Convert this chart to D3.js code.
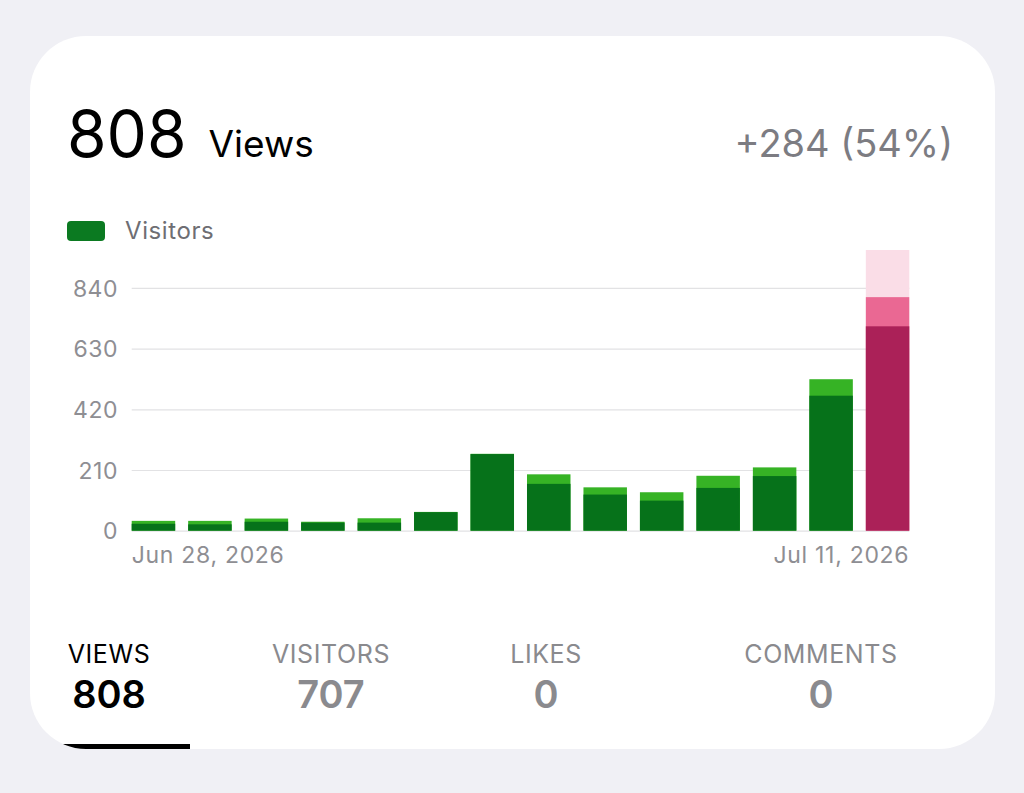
<!DOCTYPE html>
<html>
<head>
<meta charset="utf-8">
<script src="https://cdn.jsdelivr.net/npm/d3@7"></script>
<style>
  html, body { margin: 0; padding: 0; background: #f0f0f5; }
  svg { display: block; font-family: Inter, "Noto Sans", sans-serif; }
</style>
</head>
<body>
<div id="chart"></div>
<script>
// daily stats for the last two weeks
var days = ["Jun 28, 2026", "Jun 29, 2026", "Jun 30, 2026", "Jul 1, 2026", "Jul 2, 2026",
            "Jul 3, 2026", "Jul 4, 2026", "Jul 5, 2026", "Jul 6, 2026", "Jul 7, 2026",
            "Jul 8, 2026", "Jul 9, 2026", "Jul 10, 2026", "Jul 11, 2026"];
var views    = [34, 34, 42, 31, 43, 65, 266, 195, 150, 133, 190, 219, 524, 808];
var visitors = [24, 22, 31, 28, 28, 64, 265, 162, 125, 104, 148, 189, 467, 707];
var todayProjected = 971;   // pale pink cap on the current day
var yTicks = [0, 210, 420, 630, 840];
var totals = [["VIEWS", 808], ["VISITORS", 707], ["LIKES", 0], ["COMMENTS", 0]];
var change = "+284 (54%)";

var W = 1024, H = 793;

var svg = d3.select("#chart").append("svg")
    .attr("width", W)
    .attr("height", H);

// card
svg.append("clipPath").attr("id", "cardClip")
  .append("rect")
    .attr("x", 30).attr("y", 36)
    .attr("width", 965).attr("height", 713)
    .attr("rx", 56).attr("ry", 56);

svg.append("rect")
    .attr("x", 30).attr("y", 36)
    .attr("width", 965).attr("height", 713)
    .attr("rx", 56).attr("ry", 56)
    .style("fill", "#fff");

// header
var header = svg.append("text")
    .attr("x", 67).attr("y", 157);
header.append("tspan")
    .style("font-size", "64px")
    .style("fill", "#000")
    .text(totals[0][1]);
header.append("tspan")
    .attr("dx", 22)
    .style("font-size", "37px")
    .style("fill", "#000")
    .text("Views");

svg.append("text")
    .attr("x", 953).attr("y", 157)
    .attr("text-anchor", "end")
    .style("font-size", "38px")
    .style("fill", "#7c7c82")
    .text(change);

// legend
svg.append("rect")
    .attr("x", 67).attr("y", 221)
    .attr("width", 38).attr("height", 20)
    .attr("rx", 4)
    .style("fill", "#0b7a21");
svg.append("text")
    .attr("x", 125).attr("y", 239)
    .style("font-size", "24px")
    .style("letter-spacing", "0.6px")
    .style("fill", "#6e6e73")
    .text("Visitors");

// chart
var x = d3.scaleBand()
    .domain(days)
    .range([131.7, 909.3])
    .paddingInner(0.23)
    .paddingOuter(0);

var y = d3.scaleLinear()
    .domain([0, todayProjected])
    .range([530.7, 250]);

var chart = svg.append("g");

// horizontal grid
chart.append("g")
    .attr("class", "grid")
    .attr("transform", "translate(131.7,0)")
    .call(d3.axisLeft(y)
      .tickValues(yTicks)
      .tickSize(-(909.3 - 131.7))
      .tickFormat(""))
    .call(function(g){
      g.select(".domain").remove();
      g.selectAll("line").style("stroke", "#e2e2e4").style("stroke-width", 1.2);
    });

// y labels
chart.append("g")
    .attr("transform", "translate(118,0)")
    .call(d3.axisLeft(y).tickValues(yTicks).tickSize(0).tickPadding(0))
    .call(function(g){
      g.select(".domain").remove();
      g.selectAll("text")
        .attr("dy", "0.36em")
        .style("font-family", "Inter, sans-serif")
        .style("font-size", "23px")
        .style("letter-spacing", "0.5px")
        .style("fill", "#8e8e93");
    });

var last = days.length - 1;
var data = days.map(function(d, i){
    return {day: d, views: views[i], visitors: visitors[i], today: i === last};
});

// today's projected cap
chart.append("rect")
    .attr("x", x(days[last]))
    .attr("y", y(todayProjected))
    .attr("width", x.bandwidth())
    .attr("height", y(views[last]) - y(todayProjected))
    .style("fill", "#fadde7");

// views (light layer)
chart.selectAll(".bar-views")
    .data(data)
  .enter().append("rect")
    .attr("class", "bar-views")
    .attr("x", function(d){ return x(d.day); })
    .attr("y", function(d){ return y(d.views); })
    .attr("width", x.bandwidth())
    .attr("height", function(d){ return y(0) - y(d.views); })
    .style("fill", function(d){ return d.today ? "#ea6893" : "#36b325"; });

// visitors (dark layer)
chart.selectAll(".bar-visitors")
    .data(data)
  .enter().append("rect")
    .attr("class", "bar-visitors")
    .attr("x", function(d){ return x(d.day); })
    .attr("y", function(d){ return y(d.visitors); })
    .attr("width", x.bandwidth())
    .attr("height", function(d){ return y(0) - y(d.visitors); })
    .style("fill", function(d){ return d.today ? "#ab2158" : "#06721a"; });

// x labels: first and last day only
chart.append("text")
    .attr("x", x(days[0]))
    .attr("y", 563)
    .style("font-size", "23px")
    .style("letter-spacing", "0.7px")
    .style("fill", "#8e8e93")
    .text(days[0]);
chart.append("text")
    .attr("x", x(days[last]) + x.bandwidth())
    .attr("y", 563)
    .attr("text-anchor", "end")
    .style("font-size", "23px")
    .style("letter-spacing", "0.7px")
    .style("fill", "#8e8e93")
    .text(days[last]);

// totals row
var centers = [109, 331, 546, 821];
var tabs = svg.append("g");
totals.forEach(function(t, i){
    var col = i === 0 ? "#000" : "#8a8a8e";
    tabs.append("text")
        .attr("x", centers[i]).attr("y", 663)
        .attr("text-anchor", "middle")
        .style("font-size", "25px")
        .style("letter-spacing", "0.6px")
        .style("fill", col)
        .text(t[0]);
    tabs.append("text")
        .attr("x", centers[i]).attr("y", 708)
        .attr("text-anchor", "middle")
        .style("font-size", "38px")
        .style("font-weight", 600)
        .style("fill", col)
        .text(t[1]);
});

// selected tab underline
svg.append("rect")
    .attr("clip-path", "url(#cardClip)")
    .attr("x", 30).attr("y", 744)
    .attr("width", 160).attr("height", 5)
    .style("fill", "#000");
</script>
</body>
</html>
